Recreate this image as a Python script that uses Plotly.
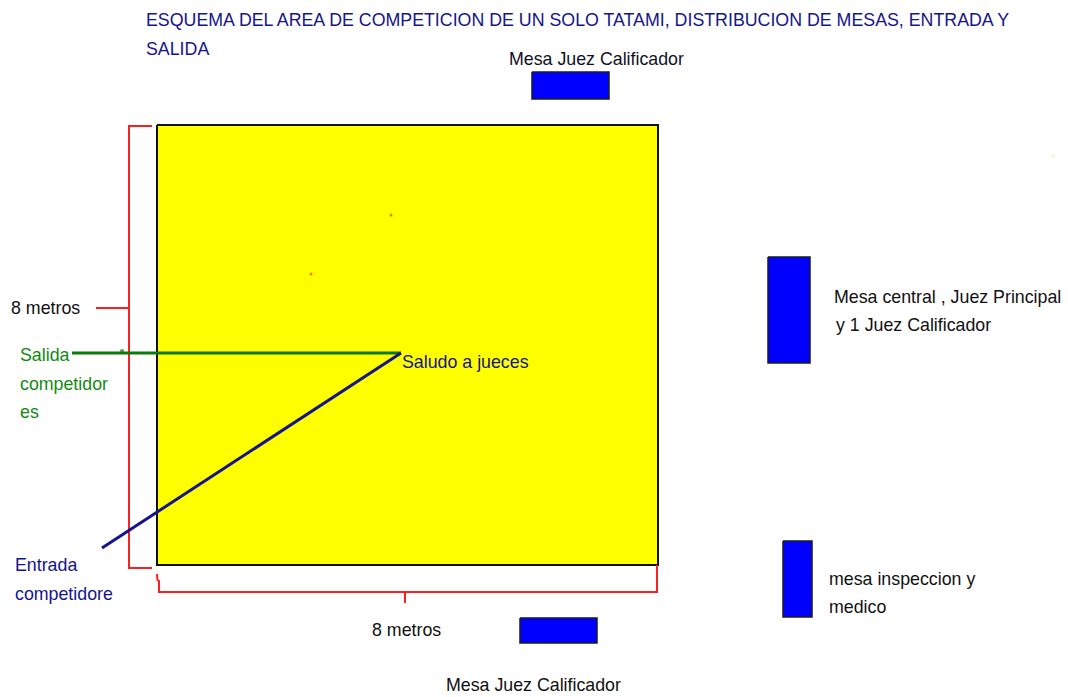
import plotly.graph_objects as go

W, H = 1068, 697
FONT = "Liberation Sans"

# Rectangles: name, x0, x1, y0, y1 (diagram units = picture pixels)
tatami_x = [157, 658, 658, 157, 157]
tatami_y = [125, 125, 565, 565, 125]
table_names = ["Mesa Juez Calificador (arriba)", "Mesa central", "Mesa inspeccion", "Mesa Juez Calificador (abajo)"]
table_x0 = [532, 768, 783, 520]
table_x1 = [609, 810, 812, 597]
table_y0 = [72, 257, 541, 618]
table_y1 = [99, 363, 617, 643]

# Lines
bracket_left_x = [152, 129, 129, 152]
bracket_left_y = [126, 126, 568, 568]
tick_left_x = [96, 129]
tick_left_y = [308, 308]
bracket_bottom_x = [157, 157.5, 159, 159, 657, 657]
bracket_bottom_y = [574, 580, 581, 592, 592, 565]
tick_bottom_x = [405, 405]
tick_bottom_y = [592, 603]
salida_x = [72, 401]
salida_y = [353, 353]
entrada_x = [102, 401]
entrada_y = [548, 353]

# Small specks in the image
speck_x = [391, 311, 1053, 122]
speck_y = [215, 274, 156, 351]
speck_color = ["#f04010", "#f04010", "#f4f080", "#0a7a0a"]
speck_size = [3, 3, 3, 4]

# Text labels
label_text = [
    "ESQUEMA DEL AREA DE COMPETICION DE UN SOLO TATAMI, DISTRIBUCION DE MESAS, ENTRADA Y",
    "SALIDA",
    "Mesa Juez Calificador",
    "8 metros",
    "Salida",
    "competidor",
    "es",
    "Saludo a jueces",
    "Mesa central , Juez Principal",
    "y 1 Juez Calificador",
    "Entrada",
    "competidore",
    "8 metros",
    "mesa inspeccion y",
    "medico",
    "Mesa Juez Calificador",
]
label_x = [146, 146, 509, 11, 20, 20, 20, 402, 834, 836, 15, 15, 372, 829, 829, 446]
label_y = [22, 51, 61, 310, 357, 386, 414, 364, 299, 327, 567, 596, 632, 581, 609, 687]
label_color = [
    "#14148c", "#14148c", "#111122", "#111111", "#128a12", "#128a12", "#128a12", "#14148c",
    "#111111", "#111111", "#14148c", "#14148c", "#111111", "#111111", "#111111", "#111111",
]

fig = go.Figure()


def line(x, y, color, width, name):
    fig.add_trace(go.Scatter(x=x, y=y, mode="lines", name=name,
                             line=dict(color=color, width=width), hoverinfo="skip"))


fig.add_trace(go.Scatter(x=tatami_x, y=tatami_y, mode="lines", fill="toself", name="Tatami",
                         fillcolor="#ffff00", line=dict(color="#111111", width=2), hoverinfo="skip"))
for n, x0, x1, y0, y1 in zip(table_names, table_x0, table_x1, table_y0, table_y1):
    fig.add_trace(go.Scatter(x=[x0, x1, x1, x0, x0], y=[y0, y0, y1, y1, y0], mode="lines",
                             fill="toself", name=n, fillcolor="#0000ff",
                             line=dict(color="#1a1a2a", width=1.5), hoverinfo="skip"))

line(bracket_left_x, bracket_left_y, "#f82020", 2, "8 metros vertical")
line(tick_left_x, tick_left_y, "#f82020", 2, "marca vertical")
line(bracket_bottom_x, bracket_bottom_y, "#f82020", 2, "8 metros horizontal")
line(tick_bottom_x, tick_bottom_y, "#f82020", 2, "marca horizontal")
line(salida_x, salida_y, "#0a7a0a", 3, "Salida")
line(entrada_x, entrada_y, "#14148c", 3, "Entrada")

fig.add_trace(go.Scatter(x=speck_x, y=speck_y, mode="markers", name="Puntos", hoverinfo="skip",
                         marker=dict(color=speck_color, size=speck_size, line=dict(width=0))))

fig.add_trace(go.Scatter(x=label_x, y=label_y, mode="text", text=label_text,
                         textposition="middle right", hoverinfo="skip", name="Textos", cliponaxis=False,
                         textfont=dict(family=FONT, size=17.8, color=label_color)))

fig.update_layout(
    width=W, height=H, autosize=False, showlegend=False,
    margin=dict(l=0, r=0, t=0, b=0),
    paper_bgcolor="#ffffff", plot_bgcolor="#ffffff",
    xaxis=dict(range=[0, W], visible=False, fixedrange=True),
    yaxis=dict(range=[H, 0], visible=False, fixedrange=True),
)
fig.write_html("out.html", config={"displayModeBar": False},
               post_script="document.body.style.margin='0';document.body.style.overflow='hidden';")
